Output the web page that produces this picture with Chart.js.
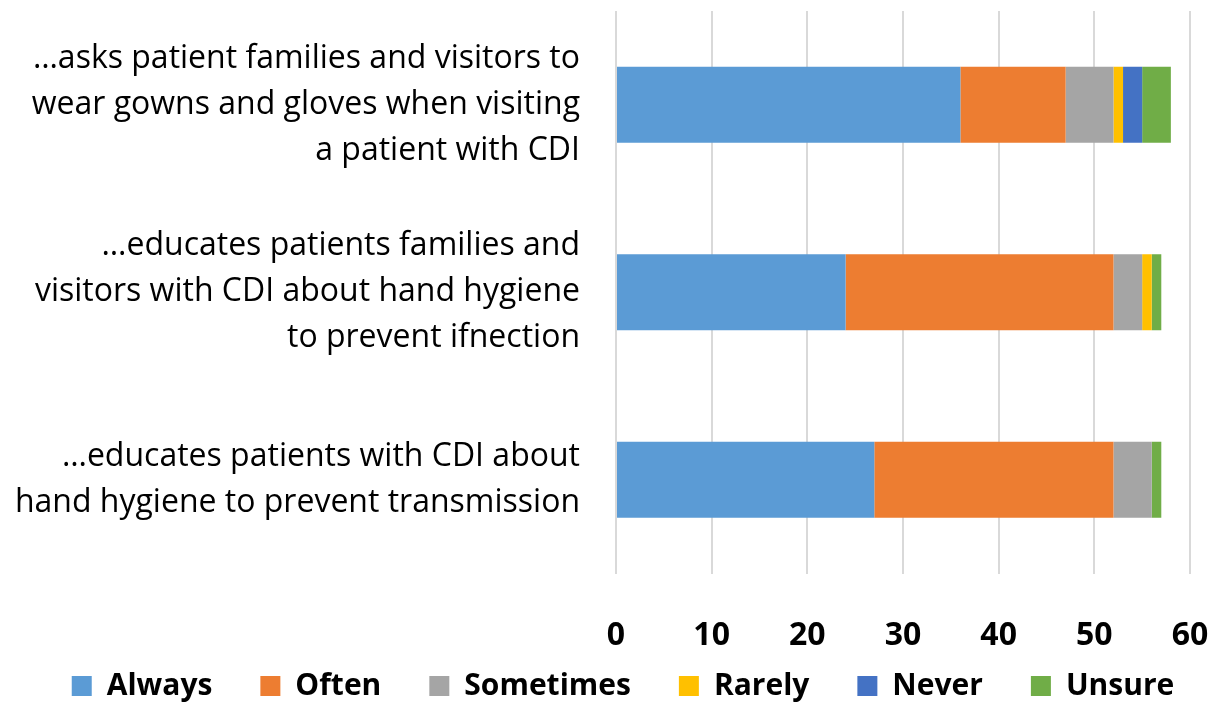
<!DOCTYPE html>
<html lang="en">
<head>
    <meta charset="UTF-8">
    <title>CDI education responses</title>
    <script src="https://cdn.jsdelivr.net/npm/chart.js"></script>
    <style>
        html, body {
            margin: 0;
            padding: 0;
            background: #ffffff;
        }
        #wrap {
            width: 1220px;
            height: 702px;
        }
    </style>
</head>
<body>
    <div id="wrap">
        <canvas id="chart"></canvas>
    </div>
    <script>
        // categories (top to bottom)
        const categories = [
            ['…asks patient families and visitors to', 'wear gowns and gloves when visiting', 'a patient with CDI'],
            ['…educates patients families and', 'visitors with CDI about hand hygiene', 'to prevent ifnection'],
            ['…educates patients with CDI about', 'hand hygiene to prevent transmission']
        ];

        // series values
        const always = [36, 24, 27];
        const often = [11, 28, 25];
        const sometimes = [5, 3, 4];
        const rarely = [1, 1, 0];
        const never = [2, 0, 0];
        const unsure = [3, 1, 1];

        const xTicks = [0, 10, 20, 30, 40, 50, 60];

        const fontFamily = '"Open Sans", "Noto Sans", sans-serif';

        const ds = (label, data, color) => ({
            label: label,
            data: data,
            backgroundColor: color,
            borderWidth: 0,
            barPercentage: 0.81,
            categoryPercentage: 0.5
        });

        // keep the legend low and full width, just under the tick labels
        const legendSpot = {
            id: 'legendSpot',
            beforeLayout(chart) {
                const lg = chart.legend;
                if (lg && !lg._patched) {
                    const fit = lg.fit;
                    lg.fit = function () {
                        this.maxWidth = 1220;
                        fit.call(this);
                        this.height = 4;
                    };
                    lg._patched = true;
                }
            },
            afterLayout(chart) {
                const lg = chart.legend;
                lg.left = 13;
                lg.right = 1233;
                lg.width = 1220;
                lg.top = 623;
                lg.bottom = 702;
            }
        };

        const ctx = document.getElementById('chart').getContext('2d');
        new Chart(ctx, {
            type: 'bar',
            data: {
                labels: categories,
                datasets: [
                    ds('Always', always, '#5b9bd5'),
                    ds('Often', often, '#ed7d31'),
                    ds('Sometimes', sometimes, '#a5a5a5'),
                    ds('Rarely', rarely, '#ffc000'),
                    ds('Never', never, '#4472c4'),
                    ds('Unsure', unsure, '#70ad47')
                ]
            },
            options: {
                indexAxis: 'y',
                responsive: true,
                maintainAspectRatio: false,
                animation: false,
                layout: {
                    padding: { left: 12, right: 0, top: 11, bottom: 0 }
                },
                plugins: {
                    legend: {
                        position: 'bottom',
                        labels: {
                            boxWidth: 20,
                            boxHeight: 20,
                            padding: 48,
                            color: '#000000',
                            font: { family: fontFamily, size: 30, weight: 'bold' }
                        }
                    },
                    tooltip: { enabled: false }
                },
                scales: {
                    x: {
                        stacked: true,
                        min: 0,
                        max: 60,
                        afterBuildTicks: (axis) => {
                            axis.ticks = xTicks.map(v => ({ value: v }));
                        },
                        afterFit: (scale) => {
                            scale.paddingLeft = 0;
                            scale.paddingRight = 30;
                        },
                        grid: {
                            color: '#d9d9d9',
                            lineWidth: 2,
                            drawTicks: false
                        },
                        border: { display: false },
                        ticks: {
                            padding: 43,
                            color: '#000000',
                            font: { family: fontFamily, size: 32, weight: 'bold' }
                        }
                    },
                    y: {
                        stacked: true,
                        grid: { display: false, drawTicks: false },
                        border: { display: false },
                        afterFit: (scale) => {
                            // multi-line labels should not push the plot area inwards
                            scale.paddingTop = 0;
                            scale.paddingBottom = 0;
                        },
                        ticks: {
                            autoSkip: false,
                            padding: 36,
                            color: '#000000',
                            font: { family: fontFamily, size: 32, lineHeight: 1.44 }
                        }
                    }
                }
            },
            plugins: [legendSpot]
        });
    </script>
</body>
</html>
